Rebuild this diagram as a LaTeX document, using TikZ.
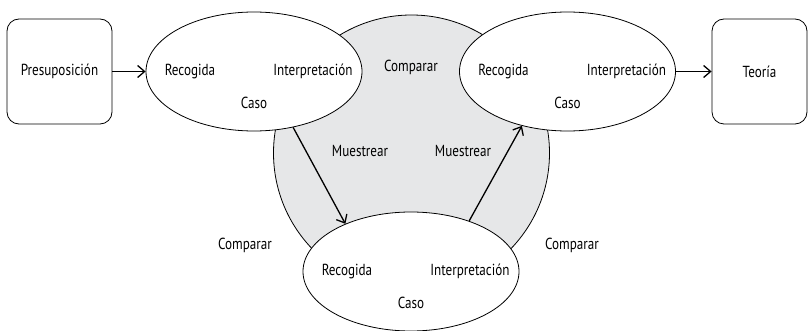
\documentclass[tikz,border=0pt]{standalone}
\usepackage{fontspec}
\setmainfont{PT Sans}[FakeStretch=0.82]
\usetikzlibrary{arrows.meta,shapes.geometric}
\definecolor{grisfondo}{RGB}{230,231,232}
\tikzset{
  caja/.style={draw, rounded corners=12pt, minimum width=105pt, minimum height=105pt, inner sep=0pt},
  caso/.style={draw, ellipse, fill=white, minimum width=216pt, minimum height=119pt, inner sep=0pt},
  flecha/.style={->, line width=1.3pt}
}
\begin{document}
\begin{tikzpicture}[x=1pt,y=-1pt, font=\fontsize{16}{18}\selectfont, line join=round, line width=0.8pt, >={Straight Barb[length=7pt,width=12pt]}]
\useasboundingbox (0,0) rectangle (809,331);
\node[circle, draw, fill=grisfondo, minimum size=276pt, inner sep=0pt] (comp) at (411.5,153) {};
\node[caja] (pre) at (59.5,71.5) {Presuposición};
\node[caja, minimum width=95pt] (teo) at (759.5,71.5) {Teoría};
\node[caso] (c1) at (254,71.5) {};
\node[caso] (c2) at (567.5,71.5) {};
\node[caso] (c3) at (411,271.5) {};
\foreach \c in {c1,c2,c3}{
  \node (\c-rec) at (\c) [xshift=-64pt] {Recogida};
  \node (\c-int) at (\c) [xshift=59pt] {Interpretación};
  \node (\c-cas) at (\c) [yshift=-31pt] {Caso};
}
\foreach \n/\x/\y/\t in {cmp1/411/67/Comparar, cmp2/245/245/Comparar, cmp3/572/245/Comparar, mue1/360/151/Muestrear, mue2/463/151/Muestrear}
  \node (\n) at (\x,\y) {\t};
\draw[flecha] (pre) -- (c1);
\draw[flecha] (c2) -- (teo);
\draw[flecha] (c1.-55) -- (c3.144);
\draw[flecha] (c3.41) -- (c2.-130);
\end{tikzpicture}
\end{document}
